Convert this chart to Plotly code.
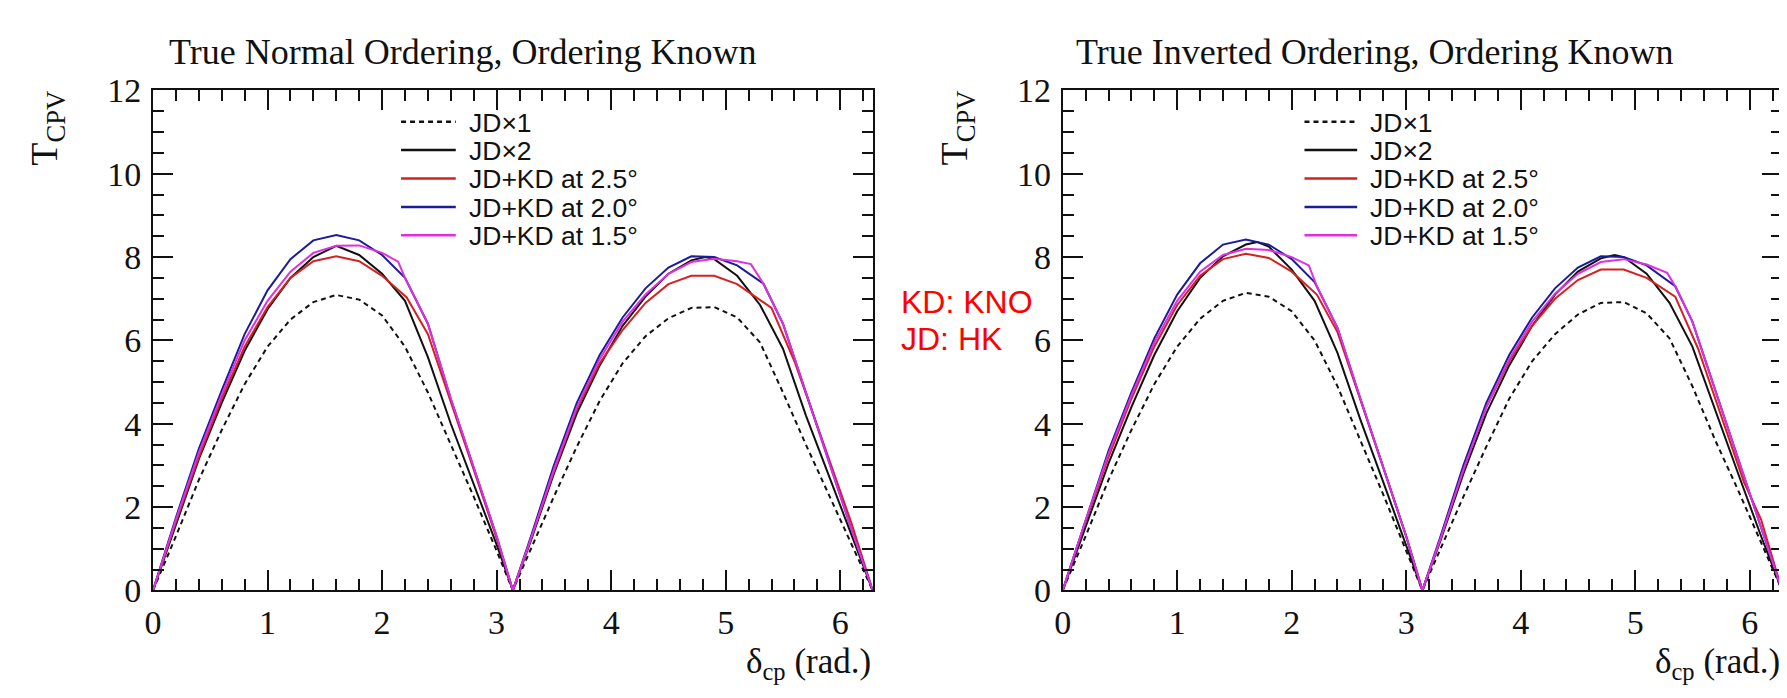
import math
import plotly.graph_objects as go

W, H = 1787, 698
PI = math.pi
TWO_PI = 2 * math.pi

# ---------------- data: True Normal Ordering ----------------
no_jd1_x = [0, 0.2, 0.4, 0.6, 0.8, 1.0, 1.2, 1.4, 1.6, 1.8, 2.0, 2.2, 2.4, 2.6, 2.8, 3.0, PI,
            3.3, 3.5, 3.7, 3.9, 4.1, 4.3, 4.5, 4.7, 4.9, 5.1, 5.3, 5.5, 5.7, 5.9, 6.1, TWO_PI]
no_jd1_y = [0, 1.3, 2.65, 3.85, 4.95, 5.85, 6.5, 6.92, 7.09, 6.98, 6.6, 5.85, 4.75, 3.5, 2.25, 0.95, 0,
            1.0, 2.25, 3.45, 4.55, 5.45, 6.1, 6.53, 6.78, 6.8, 6.55, 5.95, 4.75, 3.5, 2.3, 1.1, 0]

no_jd2_x = [0, 0.2, 0.4, 0.6, 0.8, 1.0, 1.2, 1.4, 1.6, 1.8, 2.0, 2.2, 2.4, 2.6, 2.8, 3.0, PI,
            3.3, 3.5, 3.7, 3.9, 4.1, 4.3, 4.5, 4.7, 4.82, 4.9, 5.1, 5.3, 5.5, 5.7, 5.9, 6.1, TWO_PI]
no_jd2_y = [0, 1.6, 3.15, 4.5, 5.75, 6.75, 7.5, 8.0, 8.27, 8.05, 7.6, 6.95, 5.6, 4.0, 2.55, 1.1, 0,
            1.2, 2.8, 4.25, 5.4, 6.35, 7.05, 7.6, 7.92, 8.0, 7.95, 7.55, 6.85, 5.8, 4.2, 2.75, 1.3, 0]

no_kd25_x = [0, 0.2, 0.4, 0.6, 0.8, 1.0, 1.2, 1.4, 1.6, 1.8, 2.0, 2.215, 2.4, 2.6, 2.8, 3.0, PI,
             3.3, 3.5, 3.7, 3.9, 4.1, 4.3, 4.5, 4.7, 4.9, 5.1, 5.4, 5.6, 5.8, 6.0, 6.1, TWO_PI]
no_kd25_y = [0, 1.65, 3.2, 4.6, 5.85, 6.8, 7.5, 7.9, 8.02, 7.9, 7.55, 7.03, 6.15, 4.55, 2.9, 1.25, 0,
             1.25, 2.85, 4.35, 5.45, 6.25, 6.9, 7.35, 7.55, 7.55, 7.35, 6.78, 5.5, 3.95, 2.4, 1.6, 0]

no_kd20_x = [0, 0.2, 0.4, 0.6, 0.8, 1.0, 1.2, 1.4, 1.6, 1.8, 2.0, 2.2, 2.4, 2.6, 2.8, 3.0, PI,
             3.3, 3.5, 3.7, 3.9, 4.1, 4.3, 4.5, 4.7, 4.9, 5.1, 5.33, 5.5, 5.7, 5.9, 6.1, TWO_PI]
no_kd20_y = [0, 1.75, 3.4, 4.8, 6.15, 7.2, 7.95, 8.4, 8.53, 8.4, 8.05, 7.5, 6.4, 4.6, 2.95, 1.3, 0,
             1.3, 3.0, 4.5, 5.65, 6.55, 7.25, 7.75, 8.02, 8.0, 7.8, 7.36, 6.4, 4.75, 3.1, 1.45, 0]

no_kd15_x = [0, 0.2, 0.4, 0.6, 0.8, 1.0, 1.2, 1.4, 1.6, 1.8, 2.0, 2.14, 2.2, 2.4, 2.6, 2.8, 3.0, PI,
             3.3, 3.5, 3.7, 3.9, 4.1, 4.3, 4.5, 4.7, 4.9, 5.1, 5.22, 5.33, 5.5, 5.7, 5.9, 6.1, TWO_PI]
no_kd15_y = [0, 1.7, 3.3, 4.7, 6.0, 6.95, 7.65, 8.1, 8.27, 8.28, 8.1, 7.89, 7.5, 6.4, 4.6, 2.95, 1.3, 0,
             1.25, 2.9, 4.4, 5.55, 6.45, 7.1, 7.6, 7.88, 7.96, 7.9, 7.83, 7.36, 6.4, 4.75, 3.1, 1.45, 0]

# ---------------- data: True Inverted Ordering ----------------
io_jd1_x = [0, 0.2, 0.4, 0.6, 0.8, 1.0, 1.2, 1.4, 1.6, 1.8, 2.0, 2.2, 2.4, 2.6, 2.8, 3.0, PI,
            3.3, 3.5, 3.7, 3.9, 4.1, 4.3, 4.5, 4.7, 4.9, 5.1, 5.3, 5.5, 5.7, 5.9, 6.1, TWO_PI]
io_jd1_y = [0, 1.3, 2.65, 3.85, 4.95, 5.85, 6.52, 6.95, 7.14, 7.05, 6.7, 6.0, 4.9, 3.6, 2.3, 0.95, 0,
            1.0, 2.25, 3.45, 4.6, 5.5, 6.15, 6.62, 6.9, 6.92, 6.65, 6.05, 4.9, 3.6, 2.4, 1.15, 0]

io_jd2_x = [0, 0.2, 0.4, 0.6, 0.8, 1.0, 1.2, 1.4, 1.6, 1.7, 1.8, 2.0, 2.2, 2.4, 2.6, 2.8, 3.0, PI,
            3.3, 3.5, 3.7, 3.9, 4.1, 4.3, 4.5, 4.7, 4.82, 4.9, 5.1, 5.3, 5.5, 5.7, 5.9, 6.1, TWO_PI]
io_jd2_y = [0, 1.55, 3.05, 4.4, 5.65, 6.7, 7.5, 8.02, 8.3, 8.36, 8.25, 7.7, 6.95, 5.7, 4.1, 2.6, 1.1, 0,
            1.2, 2.8, 4.25, 5.4, 6.35, 7.1, 7.65, 7.97, 8.05, 8.0, 7.6, 6.9, 5.85, 4.3, 2.8, 1.3, 0]

io_kd25_x = [0, 0.2, 0.4, 0.6, 0.8, 1.0, 1.2, 1.4, 1.6, 1.8, 2.0, 2.22, 2.4, 2.6, 2.8, 3.0, PI,
             3.3, 3.5, 3.7, 3.9, 4.1, 4.3, 4.5, 4.7, 4.9, 5.1, 5.35, 5.55, 5.75, 5.95, 6.1, TWO_PI]
io_kd25_y = [0, 1.65, 3.2, 4.6, 5.85, 6.85, 7.55, 7.95, 8.08, 7.98, 7.65, 7.1, 6.2, 4.6, 2.95, 1.3, 0,
             1.25, 2.9, 4.4, 5.5, 6.35, 7.0, 7.45, 7.7, 7.7, 7.5, 7.05, 5.8, 4.2, 2.6, 1.7, 0]

io_kd20_x = [0, 0.2, 0.4, 0.6, 0.8, 1.0, 1.2, 1.4, 1.6, 1.8, 2.0, 2.2, 2.4, 2.6, 2.8, 3.0, PI,
             3.3, 3.5, 3.7, 3.9, 4.1, 4.3, 4.5, 4.7, 4.9, 5.1, 5.35, 5.5, 5.7, 5.9, 6.1, TWO_PI]
io_kd20_y = [0, 1.7, 3.35, 4.75, 6.05, 7.1, 7.85, 8.3, 8.42, 8.3, 7.95, 7.4, 6.3, 4.6, 2.95, 1.3, 0,
             1.3, 3.0, 4.5, 5.65, 6.55, 7.25, 7.75, 8.02, 8.0, 7.8, 7.3, 6.45, 4.8, 3.15, 1.5, 0]

io_kd15_x = [0, 0.2, 0.4, 0.6, 0.8, 1.0, 1.2, 1.4, 1.6, 1.8, 2.0, 2.15, 2.22, 2.4, 2.6, 2.8, 3.0, PI,
             3.3, 3.5, 3.7, 3.9, 4.1, 4.3, 4.5, 4.7, 4.9, 5.1, 5.28, 5.35, 5.5, 5.7, 5.9, 6.1, TWO_PI]
io_kd15_y = [0, 1.68, 3.28, 4.68, 5.95, 6.95, 7.65, 8.05, 8.2, 8.17, 8.0, 7.8, 7.3, 6.3, 4.6, 2.95, 1.3, 0,
             1.25, 2.9, 4.4, 5.55, 6.45, 7.12, 7.6, 7.88, 7.95, 7.82, 7.62, 7.3, 6.45, 4.8, 3.15, 1.5, 0]

series_labels = ["JD\u00d71", "JD\u00d72", "JD+KD at 2.5\u00b0", "JD+KD at 2.0\u00b0", "JD+KD at 1.5\u00b0"]
panel_titles = ["True Normal Ordering, Ordering Known", "True Inverted Ordering, Ordering Known"]
x_title = "\u03b4<sub>cp</sub> (rad.)"
y_title = "T<sub>CPV</sub>"
x_ticks = [0, 1, 2, 3, 4, 5, 6]
y_ticks = [0, 2, 4, 6, 8, 10, 12]
note_lines = ["KD: KNO", "JD: HK"]

# ---------------- styles ----------------
colors = ["#111111", "#111111", "#d42222", "#1c1c9a", "#e02ee0"]
dashes = ["5px,4px", "solid", "solid", "solid", "solid"]
serif = "Liberation Serif"
sans = "Liberation Sans"
ink = "#111111"

# panel geometry (pixels)
panel_px = [(136.7, 860.0), (1051.0, 1774.0)]
title_cx_px = [448.5, 1365.0]
y_top_px, y_bot_px = 68.0, 596.0
legend_line_px = [(386.0, 441.0), (1294.0, 1347.0)]
legend_y0_px, legend_dy_px = 101.0, 30.0

fig = go.Figure()

panels = [
    [(no_jd1_x, no_jd1_y), (no_jd2_x, no_jd2_y), (no_kd25_x, no_kd25_y), (no_kd20_x, no_kd20_y), (no_kd15_x, no_kd15_y)],
    [(io_jd1_x, io_jd1_y), (io_jd2_x, io_jd2_y), (io_kd25_x, io_kd25_y), (io_kd20_x, io_kd20_y), (io_kd15_x, io_kd15_y)],
]

annotations = []
shapes = []
for p, data in enumerate(panels):
    xa = "x" if p == 0 else "x2"
    ya = "y" if p == 0 else "y2"
    for i, (xs, ys) in enumerate(data):
        fig.add_trace(go.Scatter(
            x=xs, y=ys, mode="lines", name=series_labels[i], showlegend=False,
            xaxis=xa, yaxis=ya,
            line=dict(color=colors[i], width=2, dash=dashes[i]),
        ))
    x0p, x1p = panel_px[p]
    # panel title
    annotations.append(dict(
        text=panel_titles[p], x=title_cx_px[p] / W, y=1 - 27 / H,
        xref="paper", yref="paper", xanchor="center", yanchor="middle",
        showarrow=False, font=dict(family=serif, size=36, color=ink),
    ))
    # y title (rotated, near the top of the axis)
    annotations.append(dict(
        text=y_title, x=(x0p - 106) / W, y=1 - 108 / H, xref="paper", yref="paper",
        xanchor="center", yanchor="middle", textangle=-90, showarrow=False,
        font=dict(family=serif, size=38, color=ink),
    ))
    # x title (right aligned at the axis end)
    annotations.append(dict(
        text=x_title, x=1, y=0, xref=f"{xa} domain", yref="paper",
        xanchor="right", yanchor="bottom", showarrow=False,
        font=dict(family=serif, size=35, color=ink),
    ))
    # legend box contents
    lx0, lx1 = legend_line_px[p]
    for i, lab in enumerate(series_labels):
        ly = legend_y0_px + i * legend_dy_px
        shapes.append(dict(
            type="line", xref="paper", yref="paper",
            x0=lx0 / W, x1=lx1 / W, y0=1 - ly / H, y1=1 - ly / H,
            line=dict(color=colors[i], width=2.5, dash=dashes[i]),
        ))
        annotations.append(dict(
            text=lab, x=(lx1 + 11) / W, y=1 - (ly + 1) / H, xref="paper", yref="paper",
            xanchor="left", yanchor="middle", showarrow=False,
            font=dict(family=sans, size=26.5, color=ink),
        ))

# red note between the panels
for k, line in enumerate(note_lines):
    annotations.append(dict(text=line, x=886 / W, y=1 - (291 + 39 * k) / H, xref="paper", yref="paper",
                            xanchor="left", yanchor="middle", showarrow=False,
                            font=dict(family=sans, size=32, color="#ff0000")))

common_x = dict(
    range=[0, TWO_PI], tickvals=x_ticks, ticks="inside", ticklen=20, tickwidth=2,
    tickcolor=ink, showline=True, linewidth=2, linecolor=ink, mirror="ticks",
    showgrid=False, zeroline=False, ticklabelstandoff=1,
    tickfont=dict(family=serif, size=34, color=ink),
    minor=dict(dtick=0.2, tick0=0, ticks="inside", ticklen=11, tickwidth=1.5, tickcolor=ink, showgrid=False),
)
common_y = dict(
    range=[0, 12], tickvals=y_ticks, ticks="inside", ticklen=20, tickwidth=2,
    tickcolor=ink, showline=True, linewidth=2, linecolor=ink, mirror="ticks",
    showgrid=False, zeroline=False, ticklabelstandoff=3,
    tickfont=dict(family=serif, size=34, color=ink),
    minor=dict(dtick=0.5, tick0=0, ticks="inside", ticklen=11, tickwidth=1.5, tickcolor=ink, showgrid=False),
    domain=[1 - y_bot_px / H, 1 - y_top_px / H],
)

fig.update_layout(
    width=W, height=H, autosize=False,
    margin=dict(l=0, r=0, t=0, b=0, pad=0),
    paper_bgcolor="white", plot_bgcolor="white",
    showlegend=False,
    xaxis=dict(common_x, domain=[panel_px[0][0] / W, panel_px[0][1] / W], anchor="y"),
    yaxis=dict(common_y, anchor="x"),
    xaxis2=dict(common_x, domain=[panel_px[1][0] / W, panel_px[1][1] / W], anchor="y2"),
    yaxis2=dict(common_y, anchor="x2"),
    annotations=annotations,
    shapes=shapes,
)

fig.write_html("out.html")
